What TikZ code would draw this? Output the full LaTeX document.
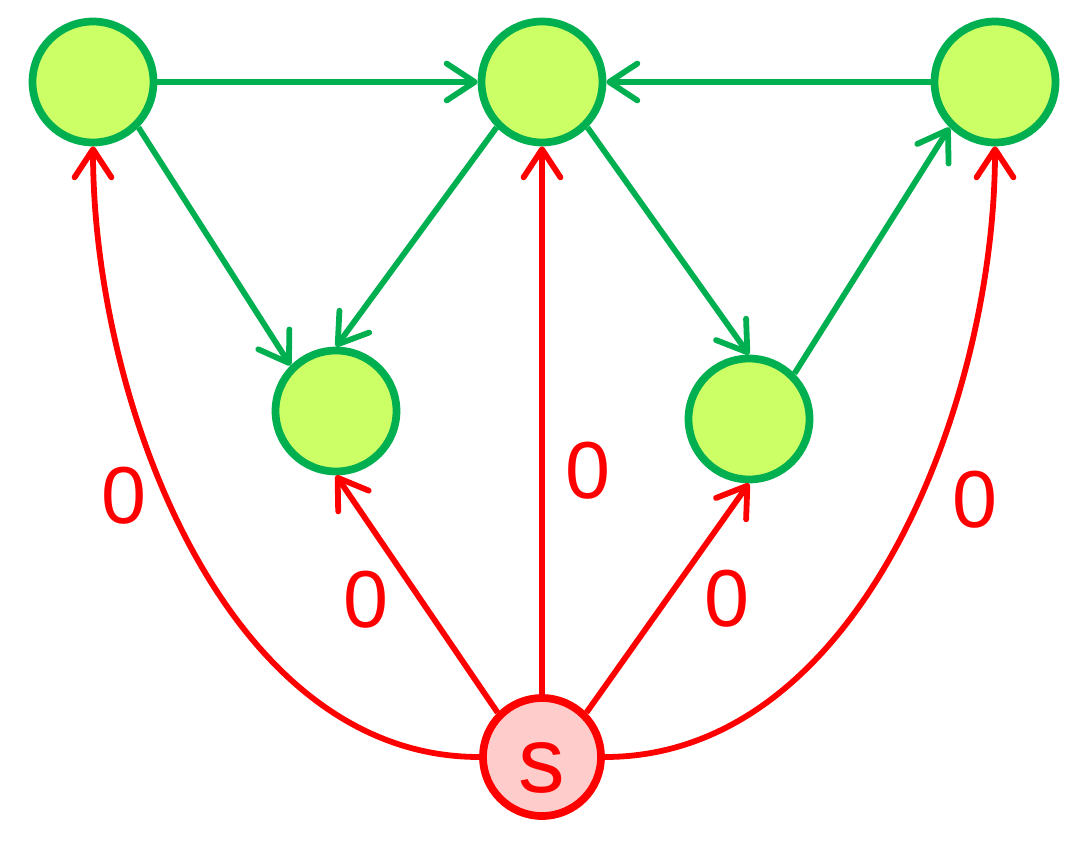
\documentclass[tikz,border=0pt]{standalone}
\usepackage{fontspec}
\setmainfont{Liberation Sans}
\usepackage{tikz}
\usepackage{xcolor}
\usetikzlibrary{arrows.meta}
\definecolor{vgreen}{RGB}{0,176,80}
\definecolor{vfill}{RGB}{204,255,102}
\definecolor{sred}{RGB}{255,0,0}
\definecolor{sfill}{RGB}{255,204,204}
\tikzset{
	vertex/.style={circle,draw=vgreen,fill=vfill,line width=4.4pt,minimum size=2.42cm,inner sep=0pt},
	source/.style={circle,draw=sred,fill=sfill,line width=4.4pt,minimum size=2.36cm,inner sep=0pt,
		text=sred,font=\fontsize{53}{53}\selectfont,text height=1.4cm,text depth=0pt},
	gedge/.style={vgreen,line width=3.3pt,-{Straight Barb[length=16pt,width=21pt,round]}},
	redge/.style={sred,line width=3.3pt,-{Straight Barb[length=16pt,width=21pt,round]}},
	wlabel/.style={text=sred,font=\fontsize{46}{46}\selectfont,inner sep=0pt}
}

\begin{document}
\begin{tikzpicture}[x=0.02cm,y=0.02cm]
\useasboundingbox (0,0) rectangle (1081,843);
\node[vertex] (a) at (93,761) {};
\node[vertex] (b) at (542,761) {};
\node[vertex] (c) at (995,761) {};
\node[vertex] (d) at (336,432) {};
\node[vertex] (e) at (749,424) {};
\node[source] (s) at (542,86) {s};

\draw[gedge] (a) -- (b);
\draw[gedge] (c) -- (b);
\draw[gedge] (a.-45) -- (d.135);
\draw[gedge] (b.-135) -- (d.north);
\draw[gedge] (b.-45) -- (e.north);
\draw[gedge] (e.45) -- (c.-135);

\draw[redge] (s.west) to[out=180,in=-90,looseness=0.9] (a.south);
\draw[redge] (s.135) -- (d.south);
\draw[redge] (s.north) -- (b.south);
\draw[redge] (s.45) -- (e.south);
\draw[redge] (s.east) to[out=0,in=-90,looseness=0.9] (c.south);

\node[wlabel] (w1) at (124,347) {0};
\node[wlabel] (w2) at (366,243) {0};
\node[wlabel] (w3) at (588,372) {0};
\node[wlabel] (w4) at (727,244) {0};
\node[wlabel] (w5) at (975,343) {0};
\end{tikzpicture}
\end{document}
